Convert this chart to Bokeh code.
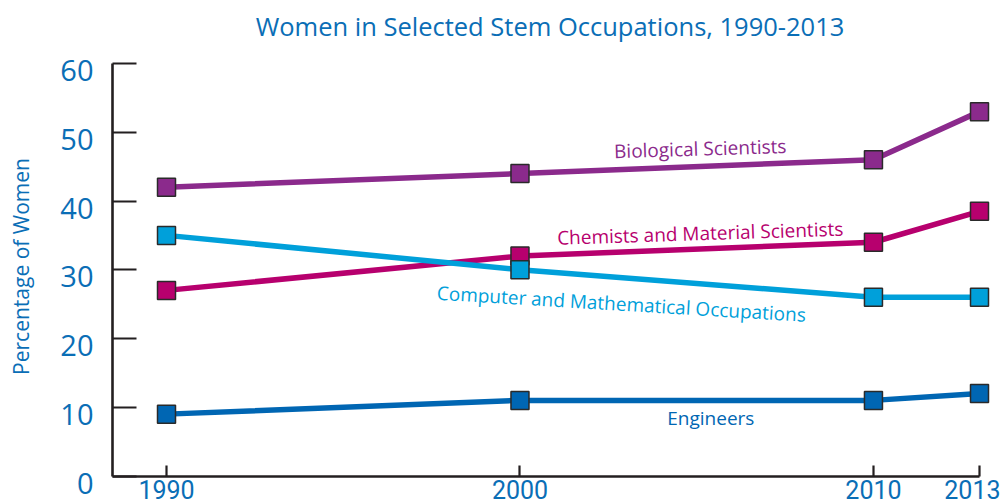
import math
from bokeh.plotting import figure
from bokeh.models import FixedTicker, Range1d, ColumnDataSource, LinearAxis, Label
from bokeh.core.properties import value
from bokeh.embed import file_html
from bokeh.resources import INLINE

# ---- data ----
years = [1990, 2000, 2010, 2013]
biological = [42, 44, 46, 53]
chemists = [27, 32, 34, 38.5]
computer = [35, 30, 26, 26]
engineers = [9, 11, 11, 12]
y_ticks = [0, 10, 20, 30, 40, 50, 60]
x_ticks = [1990, 2000, 2010, 2013]

series_names = ["Biological Scientists", "Chemists and Material Scientists",
                "Computer and Mathematical Occupations", "Engineers"]
series_values = [biological, chemists, computer, engineers]
series_colors = ["#8B2A8C", "#B7006E", "#00A0DA", "#0066B3"]

# label placement (x in years, offset from the line in percentage points, rotation)
label_x = [2005.1, 2005.1, 2002.87, 2005.4]
label_dy = [2.6, 2.3, -3.8, -2.55]
label_angle = [0.03, 0.032, -0.06, 0.0]

TITLE = "Women in Selected Stem Occupations, 1990-2013"
Y_LABEL = "Percentage of Women"
TEXT_BLUE = "#0A6EB6"
AXIS_COL = "#231F20"
FONT = "Open Sans"

# ---- layout: the plotting frame fills the canvas; scales set from pixel anchors ----
W, H = 1000, 504
PX_PER_YEAR = (979 - 166) / 23.0
PX_PER_PCT = (475.5 - 63) / 60.0
X_START = 1990 - 166 / PX_PER_YEAR
X_END = X_START + W / PX_PER_YEAR
Y_END = 475.5 / PX_PER_PCT
Y_START = Y_END - H / PX_PER_PCT

def dx(px):
    return X_START + px / PX_PER_YEAR

def dy(py):
    return Y_END - py / PX_PER_PCT

AXIS_X = dx(112)

p = figure(width=W, height=H, output_backend="svg", toolbar_location=None, title=None,
           x_range=Range1d(X_START, X_END), y_range=Range1d(Y_START, Y_END),
           min_border=0, min_border_left=0, min_border_right=0,
           min_border_top=0, min_border_bottom=0)
p.outline_line_color = None
p.xgrid.visible = False
p.ygrid.visible = False
p.background_fill_color = "white"
p.border_fill_color = "white"

def interp(xs, ys, x):
    for i in range(len(xs) - 1):
        if xs[i] <= x <= xs[i + 1]:
            t = (x - xs[i]) / (xs[i + 1] - xs[i])
            return ys[i] + t * (ys[i + 1] - ys[i])
    return ys[-1]

order = [3, 0, 1, 2]
for i in order:
    src = ColumnDataSource(dict(x=years, y=series_values[i]))
    p.line("x", "y", source=src, line_color=series_colors[i], line_width=5.5)
for i in order:
    src = ColumnDataSource(dict(x=years, y=series_values[i]))
    p.scatter("x", "y", source=src, marker="square", size=18,
              fill_color=series_colors[i], line_color="#2A2A2A", line_width=1.5)

for i in range(4):
    ly = interp(years, series_values[i], label_x[i]) + label_dy[i]
    p.text(x=[label_x[i]], y=[ly], text=[series_names[i]], angle=label_angle[i],
           text_color=series_colors[i], text_font=value(FONT), text_font_size="19px",
           text_align="center", text_baseline="middle")

# ---- axes (drawn at fixed data locations inside the frame) ----
xaxis = p.xaxis[0]
yaxis = p.yaxis[0]
xaxis.ticker = FixedTicker(ticks=x_ticks)
yaxis.ticker = FixedTicker(ticks=y_ticks)
xaxis.bounds = (AXIS_X, 2013)
yaxis.bounds = (0, 60)
xaxis.fixed_location = 0
yaxis.fixed_location = AXIS_X
for ax in (xaxis, yaxis):
    ax.axis_line_color = AXIS_COL
    ax.axis_line_width = 2.6
    ax.major_tick_line_color = AXIS_COL
    ax.major_tick_line_width = 2.2
    ax.minor_tick_line_color = None
    ax.major_tick_out = 0
    ax.major_label_text_color = TEXT_BLUE
xaxis.major_tick_in = 11
yaxis.major_tick_in = 24
xaxis.major_label_text_font = "Liberation Sans Narrow, Roboto"
xaxis.major_label_text_font_size = "25px"
xaxis.major_label_standoff = 4
yaxis.major_label_text_font_size = "0px"
yaxis.major_label_text_alpha = 0

# tick-label axis for y: labels sit ~7px below their ticks, as in the original
shift = 7 / PX_PER_PCT
p.extra_y_ranges = {"ylab": Range1d(Y_START + shift, Y_END + shift)}
ylab = LinearAxis(y_range_name="ylab", ticker=FixedTicker(ticks=y_ticks),
                  bounds=(0, 60), fixed_location=AXIS_X,
                  axis_line_color=None, major_tick_line_color=None,
                  minor_tick_line_color=None, major_tick_in=0, major_tick_out=0,
                  major_label_standoff=19, major_label_text_color=TEXT_BLUE,
                  major_label_text_font=FONT, major_label_text_font_size="29px")
p.add_layout(ylab, "left")

# title and y-axis label
p.add_layout(Label(x=dx(549.5), y=dy(25.5), text=TITLE, text_align="center",
                   text_baseline="middle", text_color=TEXT_BLUE,
                   text_font=FONT, text_font_size="25.5px"))
p.add_layout(Label(x=dx(20), y=dy(266), text=Y_LABEL, angle=math.pi / 2,
                   text_align="center", text_baseline="middle", text_color=TEXT_BLUE,
                   text_font=FONT, text_font_size="21px"))

open("out.html", "w").write(file_html(p, INLINE))
